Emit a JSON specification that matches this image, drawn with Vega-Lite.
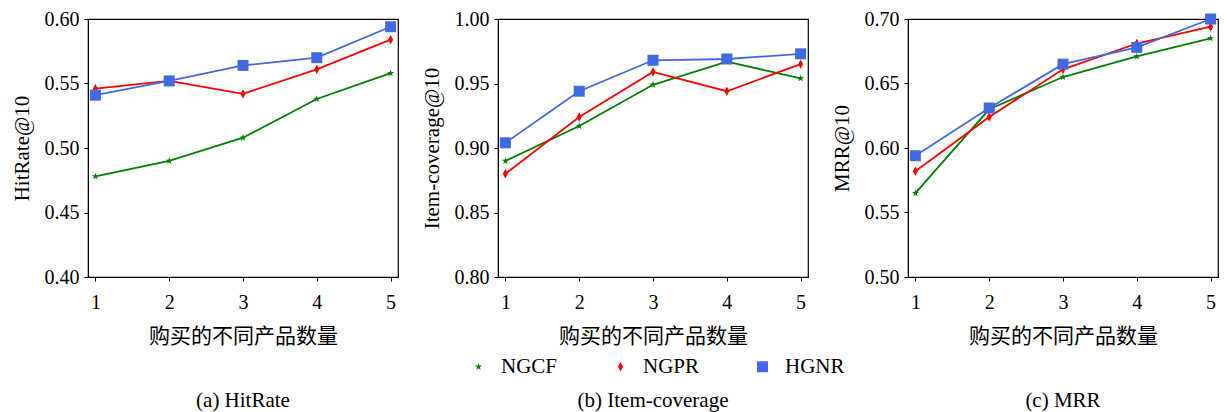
{
  "$schema": "https://vega.github.io/schema/vega-lite/v6.json",
  "background": "white",
  "padding": {"left": 10, "top": 8, "right": 2, "bottom": 0},
  "datasets": {
    "d": [
      {"metric": "HitRate", "n": 1, "model": "NGCF", "value": 0.478},
      {"metric": "HitRate", "n": 2, "model": "NGCF", "value": 0.490},
      {"metric": "HitRate", "n": 3, "model": "NGCF", "value": 0.508},
      {"metric": "HitRate", "n": 4, "model": "NGCF", "value": 0.538},
      {"metric": "HitRate", "n": 5, "model": "NGCF", "value": 0.558},
      {"metric": "HitRate", "n": 1, "model": "NGPR", "value": 0.546},
      {"metric": "HitRate", "n": 2, "model": "NGPR", "value": 0.552},
      {"metric": "HitRate", "n": 3, "model": "NGPR", "value": 0.542},
      {"metric": "HitRate", "n": 4, "model": "NGPR", "value": 0.561},
      {"metric": "HitRate", "n": 5, "model": "NGPR", "value": 0.584},
      {"metric": "HitRate", "n": 1, "model": "HGNR", "value": 0.541},
      {"metric": "HitRate", "n": 2, "model": "HGNR", "value": 0.552},
      {"metric": "HitRate", "n": 3, "model": "HGNR", "value": 0.564},
      {"metric": "HitRate", "n": 4, "model": "HGNR", "value": 0.570},
      {"metric": "HitRate", "n": 5, "model": "HGNR", "value": 0.594},
      {"metric": "Coverage", "n": 1, "model": "NGCF", "value": 0.890},
      {"metric": "Coverage", "n": 2, "model": "NGCF", "value": 0.917},
      {"metric": "Coverage", "n": 3, "model": "NGCF", "value": 0.949},
      {"metric": "Coverage", "n": 4, "model": "NGCF", "value": 0.967},
      {"metric": "Coverage", "n": 5, "model": "NGCF", "value": 0.954},
      {"metric": "Coverage", "n": 1, "model": "NGPR", "value": 0.880},
      {"metric": "Coverage", "n": 2, "model": "NGPR", "value": 0.924},
      {"metric": "Coverage", "n": 3, "model": "NGPR", "value": 0.959},
      {"metric": "Coverage", "n": 4, "model": "NGPR", "value": 0.944},
      {"metric": "Coverage", "n": 5, "model": "NGPR", "value": 0.965},
      {"metric": "Coverage", "n": 1, "model": "HGNR", "value": 0.904},
      {"metric": "Coverage", "n": 2, "model": "HGNR", "value": 0.944},
      {"metric": "Coverage", "n": 3, "model": "HGNR", "value": 0.968},
      {"metric": "Coverage", "n": 4, "model": "HGNR", "value": 0.969},
      {"metric": "Coverage", "n": 5, "model": "HGNR", "value": 0.973},
      {"metric": "MRR", "n": 1, "model": "NGCF", "value": 0.565},
      {"metric": "MRR", "n": 2, "model": "NGCF", "value": 0.630},
      {"metric": "MRR", "n": 3, "model": "NGCF", "value": 0.655},
      {"metric": "MRR", "n": 4, "model": "NGCF", "value": 0.671},
      {"metric": "MRR", "n": 5, "model": "NGCF", "value": 0.685},
      {"metric": "MRR", "n": 1, "model": "NGPR", "value": 0.582},
      {"metric": "MRR", "n": 2, "model": "NGPR", "value": 0.624},
      {"metric": "MRR", "n": 3, "model": "NGPR", "value": 0.661},
      {"metric": "MRR", "n": 4, "model": "NGPR", "value": 0.681},
      {"metric": "MRR", "n": 5, "model": "NGPR", "value": 0.694},
      {"metric": "MRR", "n": 1, "model": "HGNR", "value": 0.594},
      {"metric": "MRR", "n": 2, "model": "HGNR", "value": 0.631},
      {"metric": "MRR", "n": 3, "model": "HGNR", "value": 0.665},
      {"metric": "MRR", "n": 4, "model": "HGNR", "value": 0.678},
      {"metric": "MRR", "n": 5, "model": "HGNR", "value": 0.700}
    ]
  },
  "config": {
    "font": "Liberation Serif",
    "view": {"stroke": "black", "strokeWidth": 1.2},
    "axis": {
      "grid": false,
      "domainColor": "black",
      "tickColor": "black",
      "tickSize": 4,
      "labelFont": "Liberation Serif",
      "labelFontSize": 20,
      "labelColor": "black",
      "titleFont": "Liberation Serif, Noto Sans CJK SC",
      "titleFontSize": 21,
      "titleFontWeight": "normal",
      "titleColor": "black"
    },
    "axisX": {"labelPadding": 11, "titlePadding": 13, "labelAngle": 0},
    "axisY": {"labelPadding": 5, "titlePadding": 12},
    "legend": {"labelFont": "Liberation Serif", "labelFontSize": 21, "labelColor": "black"}
  },
  "spacing": 100,
  "bounds": "flush",
  "resolve": {"scale": {"color": "shared", "shape": "shared", "size": "shared"}},
  "hconcat": [
    {
      "width": 310, "height": 258,
      "data": {"name": "d"},
      "transform": [{"filter": "datum.metric === 'HitRate'"}],
      "title": {"text": "(a) HitRate", "orient": "bottom", "offset": 44, "frame": "group", "anchor": "middle", "fontSize": 21, "fontWeight": "normal", "font": "Liberation Serif", "color": "black"},
      "encoding": {
        "x": {"field": "n", "type": "quantitative", "scale": {"domain": [0.9, 5.1], "nice": false}, "axis": {"values": [1, 2, 3, 4, 5], "format": "d", "title": "购买的不同产品数量"}},
        "y": {"field": "value", "type": "quantitative", "scale": {"domain": [0.4, 0.6], "nice": false, "zero": false}, "axis": {"values": [0.4, 0.45, 0.5, 0.55, 0.6], "format": ".2f", "title": "HitRate@10"}},
        "color": {"field": "model", "type": "nominal", "scale": {"domain": ["NGCF", "NGPR", "HGNR"], "range": ["#008000", "#ff0000", "#4169e1"]},
          "legend": {"orient": "none", "legendX": 380, "legendY": 337, "direction": "horizontal", "title": null, "gridAlign": "all", "columnPadding": 49, "symbolSize": 1089, "labelOffset": 12,
            "encode": {"symbols": {"update": {
              "shape": {"signal": "datum.value === 'NGCF' ? 'M-1,-0.05L1,-0.05L1,0.05L-1,0.05Z M0,-0.22 L0.053,-0.073 L0.209,-0.068 L0.086,0.028 L0.129,0.178 L0,0.09 L-0.129,0.178 L-0.086,0.028 L-0.209,-0.068 L-0.053,-0.073 Z' : datum.value === 'NGPR' ? 'M-1,-0.05L1,-0.05L1,0.05L-1,0.05Z M0,-0.33L0.18,0L0,0.33L-0.18,0Z' : 'M-1,-0.05L1,-0.05L1,0.05L-1,0.05Z M-0.27,-0.27L0.27,-0.27L0.27,0.27L-0.27,0.27Z'"},
              "size": {"value": 1089},
              "fill": {"scale": "color", "field": "value"},
              "fillOpacity": {"value": 1},
              "strokeWidth": {"value": 0}
            }}}}}
      },
      "layer": [
        {"mark": {"type": "line", "strokeWidth": 1.8}, "encoding": {}},
        {"mark": {"type": "point", "filled": true, "opacity": 1},
          "encoding": {
            "shape": {"field": "model", "type": "nominal", "scale": {"domain": ["NGCF", "NGPR", "HGNR"], "range": ["M0,-1 L0.235,-0.324 L0.951,-0.309 L0.38,0.124 L0.588,0.809 L0,0.4 L-0.588,0.809 L-0.38,0.124 L-0.951,-0.309 L-0.235,-0.324 Z", "M0,-1L0.55,0L0,1L-0.55,0Z", "square"]}, "legend": null},
            "size": {"field": "model", "type": "nominal", "scale": {"domain": ["NGCF", "NGPR", "HGNR"], "range": [55, 121, 72]}, "legend": null}
          }}
      ]
    },
    {
      "width": 310, "height": 258,
      "data": {"name": "d"},
      "transform": [{"filter": "datum.metric === 'Coverage'"}],
      "title": {"text": "(b) Item-coverage", "orient": "bottom", "offset": 44, "frame": "group", "anchor": "middle", "fontSize": 21, "fontWeight": "normal", "font": "Liberation Serif", "color": "black"},
      "encoding": {
        "x": {"field": "n", "type": "quantitative", "scale": {"domain": [0.9, 5.1], "nice": false}, "axis": {"values": [1, 2, 3, 4, 5], "format": "d", "title": "购买的不同产品数量"}},
        "y": {"field": "value", "type": "quantitative", "scale": {"domain": [0.8, 1.0], "nice": false, "zero": false}, "axis": {"values": [0.8, 0.85, 0.9, 0.95, 1.0], "format": ".2f", "title": "Item-coverage@10"}},
        "color": {"field": "model", "type": "nominal", "scale": {"domain": ["NGCF", "NGPR", "HGNR"], "range": ["#008000", "#ff0000", "#4169e1"]}}
      },
      "layer": [
        {"mark": {"type": "line", "strokeWidth": 1.8}, "encoding": {}},
        {"mark": {"type": "point", "filled": true, "opacity": 1},
          "encoding": {
            "shape": {"field": "model", "type": "nominal", "scale": {"domain": ["NGCF", "NGPR", "HGNR"], "range": ["M0,-1 L0.235,-0.324 L0.951,-0.309 L0.38,0.124 L0.588,0.809 L0,0.4 L-0.588,0.809 L-0.38,0.124 L-0.951,-0.309 L-0.235,-0.324 Z", "M0,-1L0.55,0L0,1L-0.55,0Z", "square"]}, "legend": null},
            "size": {"field": "model", "type": "nominal", "scale": {"domain": ["NGCF", "NGPR", "HGNR"], "range": [55, 121, 72]}, "legend": null}
          }}
      ]
    },
    {
      "width": 310, "height": 258,
      "data": {"name": "d"},
      "transform": [{"filter": "datum.metric === 'MRR'"}],
      "title": {"text": "(c) MRR", "orient": "bottom", "offset": 44, "frame": "group", "anchor": "middle", "fontSize": 21, "fontWeight": "normal", "font": "Liberation Serif", "color": "black"},
      "encoding": {
        "x": {"field": "n", "type": "quantitative", "scale": {"domain": [0.9, 5.1], "nice": false}, "axis": {"values": [1, 2, 3, 4, 5], "format": "d", "title": "购买的不同产品数量"}},
        "y": {"field": "value", "type": "quantitative", "scale": {"domain": [0.5, 0.7], "nice": false, "zero": false}, "axis": {"values": [0.5, 0.55, 0.6, 0.65, 0.7], "format": ".2f", "title": "MRR@10"}},
        "color": {"field": "model", "type": "nominal", "scale": {"domain": ["NGCF", "NGPR", "HGNR"], "range": ["#008000", "#ff0000", "#4169e1"]}}
      },
      "layer": [
        {"mark": {"type": "line", "strokeWidth": 1.8}, "encoding": {}},
        {"mark": {"type": "point", "filled": true, "opacity": 1},
          "encoding": {
            "shape": {"field": "model", "type": "nominal", "scale": {"domain": ["NGCF", "NGPR", "HGNR"], "range": ["M0,-1 L0.235,-0.324 L0.951,-0.309 L0.38,0.124 L0.588,0.809 L0,0.4 L-0.588,0.809 L-0.38,0.124 L-0.951,-0.309 L-0.235,-0.324 Z", "M0,-1L0.55,0L0,1L-0.55,0Z", "square"]}, "legend": null},
            "size": {"field": "model", "type": "nominal", "scale": {"domain": ["NGCF", "NGPR", "HGNR"], "range": [55, 121, 72]}, "legend": null}
          }}
      ]
    }
  ]
}
